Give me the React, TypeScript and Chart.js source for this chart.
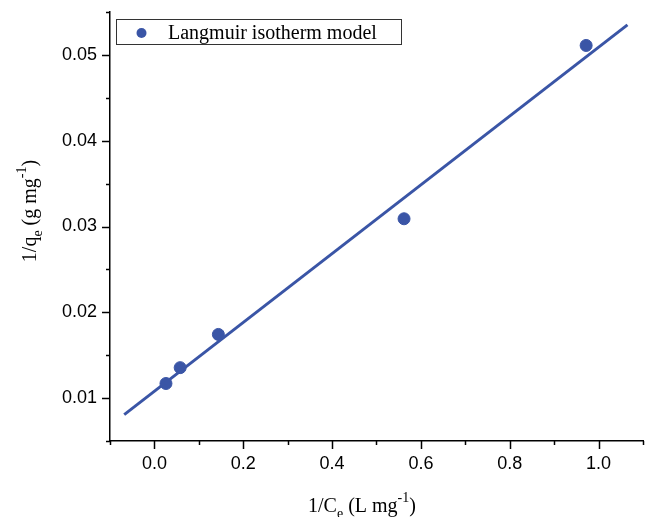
import React, { useEffect, useRef } from "react";
import { Chart, registerables } from "chart.js";

Chart.register(...registerables);

// Data
const xValues = [0.026, 0.058, 0.144, 0.562, 0.972];
const yValues = [0.0117, 0.01355, 0.01742, 0.0309, 0.0511];
const fitX = [-0.068, 1.065];
const fitY = [0.00807, 0.0535];
const xTickLabels = ["0.0", "0.2", "0.4", "0.6", "0.8", "1.0"];
const yTickLabels = ["0.01", "0.02", "0.03", "0.04", "0.05"];
const seriesLabel = "Langmuir isotherm model";

const BLUE = "#3a55a6";
const SERIF = "'Liberation Serif', 'Times New Roman', serif";
const SANS = "'Liberation Sans', Arial, sans-serif";

type Seg = { t: string; k: "n" | "sub" | "sup" };

function drawRich(ctx: CanvasRenderingContext2D, segs: Seg[], cx: number, baseY: number, size: number) {
  const small = Math.round(size * 0.72);
  const widths = segs.map((s) => {
    ctx.font = `${s.k === "n" ? size : small}px ${SERIF}`;
    return ctx.measureText(s.t).width;
  });
  const total = widths.reduce((a, b) => a + b, 0);
  let x = cx - total / 2;
  ctx.textAlign = "left";
  ctx.textBaseline = "alphabetic";
  ctx.fillStyle = "#000";
  segs.forEach((s, i) => {
    ctx.font = `${s.k === "n" ? size : small}px ${SERIF}`;
    const dy = s.k === "sub" ? size * 0.28 : s.k === "sup" ? -size * 0.48 : 0;
    ctx.fillText(s.t, x, baseY + dy);
    x += widths[i];
  });
}

const decorPlugin = {
  id: "decor",
  afterDraw(chart: any) {
    const ctx: CanvasRenderingContext2D = chart.ctx;
    const xs = chart.scales.x;
    const ys = chart.scales.y;
    const area = chart.chartArea;
    ctx.save();
    ctx.strokeStyle = "#000";
    ctx.lineWidth = 1.5;
    // x ticks
    for (let i = -1; i <= 11; i++) {
      const v = i / 10;
      const px = Math.round(xs.getPixelForValue(v)) + 0.5;
      const len = i % 2 === 0 ? 8 : 4;
      ctx.beginPath();
      ctx.moveTo(px, area.bottom);
      ctx.lineTo(px, area.bottom + len);
      ctx.stroke();
    }
    // y ticks
    for (let i = 1; i <= 11; i++) {
      const v = i * 0.005;
      const py = Math.round(ys.getPixelForValue(v)) + 0.5;
      const len = i % 2 === 0 ? 8 : 4;
      ctx.beginPath();
      ctx.moveTo(area.left, py);
      ctx.lineTo(area.left - len, py);
      ctx.stroke();
    }
    // x title
    drawRich(
      ctx,
      [
        { t: "1/C", k: "n" },
        { t: "e", k: "sub" },
        { t: " (L mg", k: "n" },
        { t: "-1", k: "sup" },
        { t: ")", k: "n" },
      ],
      362,
      512,
      20
    );
    // y title
    ctx.save();
    ctx.translate(36, 211);
    ctx.rotate(-Math.PI / 2);
    drawRich(
      ctx,
      [
        { t: "1/q", k: "n" },
        { t: "e", k: "sub" },
        { t: " (g mg", k: "n" },
        { t: "-1", k: "sup" },
        { t: ")", k: "n" },
      ],
      0,
      0,
      20
    );
    ctx.restore();
    // legend
    ctx.lineWidth = 1;
    ctx.strokeStyle = "#333";
    ctx.strokeRect(116.5, 19.5, 285, 25);
    ctx.fillStyle = BLUE;
    ctx.beginPath();
    ctx.arc(141.5, 33, 5, 0, Math.PI * 2);
    ctx.fill();
    ctx.fillStyle = "#000";
    ctx.font = `20px ${SERIF}`;
    ctx.textAlign = "left";
    ctx.textBaseline = "alphabetic";
    ctx.fillText(seriesLabel, 168, 39);
    ctx.restore();
  },
};

export default function App() {
  const ref = useRef<HTMLCanvasElement>(null);
  useEffect(() => {
    document.body.style.margin = "0";
    const chart = new Chart(ref.current!, {
      type: "scatter",
      data: {
        datasets: [
          {
            type: "line",
            label: "fit",
            data: fitX.map((x, i) => ({ x, y: fitY[i] })),
            borderColor: BLUE,
            borderWidth: 3,
            pointRadius: 0,
            fill: false,
          } as any,
          {
            label: seriesLabel,
            data: xValues.map((x, i) => ({ x, y: yValues[i] })),
            backgroundColor: BLUE,
            borderColor: BLUE,
            pointRadius: 6,
            pointHoverRadius: 6,
          },
        ],
      },
      plugins: [decorPlugin],
      options: {
        animation: false,
        responsive: false,
        maintainAspectRatio: false,
        layout: { padding: { top: 12, right: 8, left: 0, bottom: 0 } },
        plugins: { legend: { display: false }, tooltip: { enabled: false } },
        scales: {
          x: {
            type: "linear",
            min: -0.1,
            max: 1.1,
            afterFit: (s: any) => {
              s.height = 76;
              s.paddingLeft = 0;
              s.paddingRight = 0;
            },
            afterBuildTicks: (s: any) => {
              s.ticks = xTickLabels.map((l) => ({ value: parseFloat(l) }));
            },
            grid: { display: false, drawTicks: false },
            border: { display: true, color: "#000", width: 1.5 },
            ticks: {
              color: "#000",
              font: { family: SANS, size: 18 },
              padding: 12,
              maxRotation: 0,
              callback: (v: any) => xTickLabels.find((l) => Math.abs(parseFloat(l) - v) < 1e-9) ?? "",
            },
          },
          y: {
            type: "linear",
            min: 0.005,
            max: 0.055,
            afterFit: (s: any) => {
              s.width = 110;
              s.paddingTop = 0;
              s.paddingBottom = 0;
            },
            afterBuildTicks: (s: any) => {
              s.ticks = yTickLabels.map((l) => ({ value: parseFloat(l) }));
            },
            grid: { display: false, drawTicks: false },
            border: { display: true, color: "#000", width: 1.5 },
            ticks: {
              color: "#000",
              font: { family: SANS, size: 18 },
              padding: 13,
              callback: (v: any) => yTickLabels.find((l) => Math.abs(parseFloat(l) - v) < 1e-9) ?? "",
            },
          },
        },
      },
    });
    return () => chart.destroy();
  }, []);
  return (
    <div style={{ width: 651, height: 517, position: "relative", background: "#fff" }}>
      <canvas ref={ref} width={651} height={517} style={{ display: "block" }} />
    </div>
  );
}
